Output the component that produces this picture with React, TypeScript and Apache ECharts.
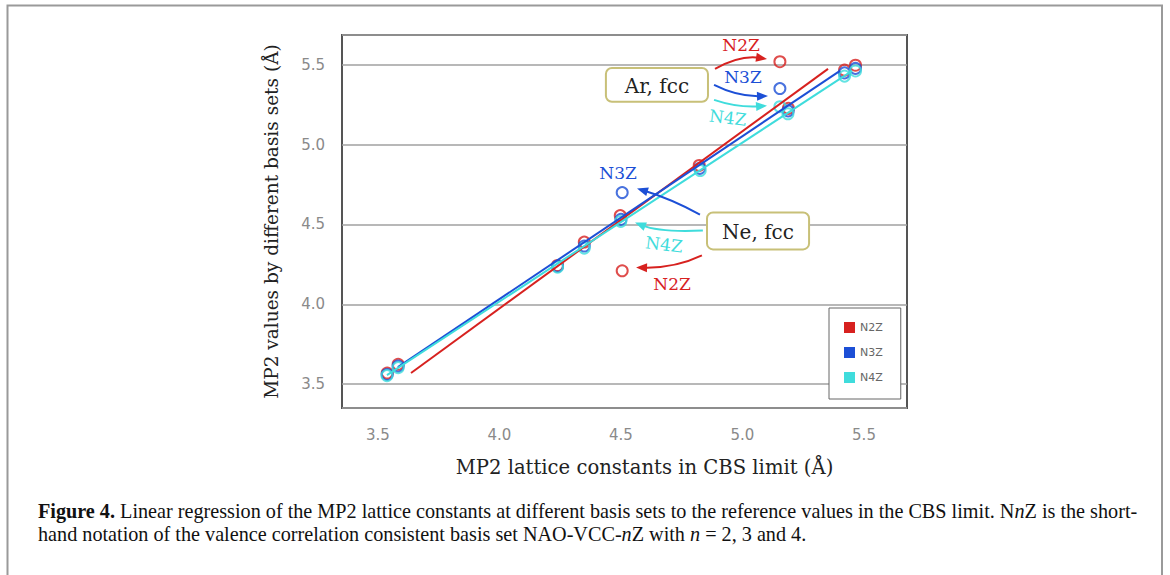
import React, { useEffect, useRef } from "react";
import * as echarts from "echarts";

// ---------- data ----------
const seriesNames = ["N2Z", "N3Z", "N4Z"];
const seriesColors = ["#d7211f", "#1c4fd6", "#3fdcdc"];

// scatter points [CBS value, basis-set value]
const n2zPoints = [
  [3.538, 3.569], [3.583, 3.624], [4.239, 4.243], [4.349, 4.39], [4.497, 4.556],
  [4.822, 4.87], [5.189, 5.228], [5.42, 5.467], [5.465, 5.498], [4.505, 4.21], [5.154, 5.52],
];
const n3zPoints = [
  [3.538, 3.56], [3.583, 3.612], [4.239, 4.238], [4.349, 4.365], [4.5, 4.532],
  [4.824, 4.852], [5.188, 5.212], [5.42, 5.45], [5.465, 5.478], [4.505, 4.7], [5.154, 5.352],
];
const n4zPoints = [
  [3.537, 3.553], [3.583, 3.603], [4.239, 4.233], [4.349, 4.352], [4.499, 4.519],
  [4.826, 4.838], [5.154, 5.238], [5.187, 5.194], [5.42, 5.43], [5.465, 5.462],
];

// regression lines (end points)
const n2zFit = [[3.636, 3.569], [5.352, 5.475]];
const n3zFit = [[3.582, 3.606], [5.401, 5.463]];
const n4zFit = [[3.537, 3.556], [5.451, 5.463]];

const xTicks = [3.5, 4.0, 4.5, 5.0, 5.5];
const yTicks = [3.5, 4.0, 4.5, 5.0, 5.5];

// annotation boxes: label, top-left, bottom-right (data coords)
const boxes = [
  { label: "Ar, fcc", p1: [4.438, 5.481], p2: [4.858, 5.269] },
  { label: "Ne, fcc", p1: [4.854, 4.575], p2: [5.274, 4.344] },
];

// arrows: series index, start, control, tip (data coords)
const arrows = [
  { s: 0, a: [4.887, 5.475], c: [4.99, 5.5625], t: [5.101, 5.5375] },
  { s: 1, a: [4.883, 5.375], c: [4.981, 5.3], t: [5.105, 5.306] },
  { s: 2, a: [4.883, 5.281], c: [4.981, 5.231], t: [5.101, 5.244] },
  { s: 1, a: [4.825, 4.5625], c: [4.702, 4.6625], t: [4.566, 4.725] },
  { s: 2, a: [4.837, 4.4625], c: [4.66, 4.45], t: [4.558, 4.5125] },
  { s: 0, a: [4.833, 4.306], c: [4.722, 4.225], t: [4.562, 4.231] },
];

// arrow labels: series index, position (data coords), rotation
const arrowLabels = [
  { s: 0, p: [4.994, 5.625], r: 0 },
  { s: 1, p: [5.002, 5.425], r: 0 },
  { s: 2, p: [4.94, 5.169], r: -0.12 },
  { s: 1, p: [4.488, 4.825], r: 0 },
  { s: 2, p: [4.677, 4.375], r: -0.12 },
  { s: 0, p: [4.71, 4.125], r: 0 },
];

const xTitle = "MP2 lattice constants in CBS limit (Å)";
const yTitle = "MP2 values by different basis sets (Å)";
const captionLine1 =
  "{b|Figure 4.} Linear regression of the MP2 lattice constants at different basis sets to the reference values in the CBS limit. N{i|n}Z is the short-";
const captionLine2 =
  "hand notation of the valence correlation consistent basis set NAO-VCC-{i|n}Z with {i|n} = 2, 3 and 4.";

const SERIF = "DejaVu Serif";
const CAP_FONT = "Liberation Serif";
const CAP_SIZE = 20.2;

export default function App() {
  const ref = useRef<HTMLDivElement>(null);
  useEffect(() => {
    if (!ref.current) return;
    const chart = echarts.init(ref.current, null, { renderer: "svg" });
    const isTick = (v: number, ticks: number[]) => ticks.some((t) => Math.abs(t - v) < 1e-6);
    const pointSets = [n2zPoints, n3zPoints, n4zPoints];
    const fits = [n2zFit, n3zFit, n4zFit];
    const option: any = {
      animation: false,
      backgroundColor: "#fff",
      grid: {
        left: 342, top: 35, width: 565, height: 373,
        show: true, borderColor: "#555", borderWidth: 2, backgroundColor: "transparent",
      },
      legend: {
        data: seriesNames.map((n, i) => ({ name: n, itemStyle: { color: seriesColors[i], borderWidth: 0 } })),
        orient: "vertical", left: 829, top: 308, icon: "rect",
        itemWidth: 11, itemHeight: 11, itemGap: 14,
        padding: [14, 18, 16, 15],
        borderColor: "#666", borderWidth: 1, backgroundColor: "#fff",
        textStyle: { color: "#666", fontSize: 11, fontFamily: "DejaVu Sans" },
        selectedMode: false, z: 10,
      },
      xAxis: {
        type: "value", min: 3.352, max: 5.677, splitNumber: 5,
        axisLine: { show: false }, axisTick: { show: false }, splitLine: { show: false },
        axisLabel: {
          showMinLabel: false, showMaxLabel: false, color: "#8a8a8a", fontSize: 15,
          fontFamily: "DejaVu Sans", margin: 19,
          formatter: (v: number) => (isTick(v, xTicks) ? v.toFixed(1) : ""),
        },
        name: xTitle, nameLocation: "middle", nameGap: 49,
        nameTextStyle: { fontFamily: SERIF, fontSize: 19.6, color: "#222", padding: [0, 0, 0, 40] },
      },
      yAxis: {
        type: "value", min: 3.35, max: 5.6875, splitNumber: 5,
        axisLine: { show: false }, axisTick: { show: false },
        splitLine: { show: true, lineStyle: { color: "#a0a0a0", width: 1.5 } },
        axisLabel: {
          showMinLabel: false, showMaxLabel: false, color: "#8a8a8a", fontSize: 15,
          fontFamily: "DejaVu Sans", margin: 17,
          formatter: (v: number) => (isTick(v, yTicks) ? v.toFixed(1) : ""),
        },
        name: yTitle, nameLocation: "middle", nameGap: 61,
        nameTextStyle: { fontFamily: SERIF, fontSize: 18.5, color: "#222" },
      },
      series: [
        ...fits.map((f, i) => ({
          name: seriesNames[i], type: "line", data: f, showSymbol: false, silent: true,
          lineStyle: { color: seriesColors[i], width: 2 }, itemStyle: { color: seriesColors[i] },
        })),
        ...pointSets.map((p, i) => ({
          name: seriesNames[i], type: "scatter", data: p, symbol: "circle", symbolSize: 11,
          itemStyle: { color: "rgba(255,255,255,0)", borderColor: seriesColors[i], borderWidth: 2 },
        })),
      ],
    };
    chart.setOption(option);

    const P = (p: number[]) => chart.convertToPixel({ gridIndex: 0 }, p) as number[];
    const g: any[] = [];
    // outer frame
    g.push({
      type: "rect", shape: { x: 7.5, y: 5.5, width: 1154.5, height: 600 },
      style: { fill: "none", stroke: "#9a9a9a", lineWidth: 2 }, silent: true, z: 1,
    });
    // boxes
    boxes.forEach((b) => {
      const a = P(b.p1), c = P(b.p2);
      g.push({
        type: "rect", shape: { x: a[0], y: a[1], width: c[0] - a[0], height: c[1] - a[1], r: 6 },
        style: { fill: "#fff", stroke: "#c8c078", lineWidth: 2 }, z: 20,
      });
      g.push({
        type: "text", x: (a[0] + c[0]) / 2, y: (a[1] + c[1]) / 2 + 1, z: 21,
        style: { text: b.label, fill: "#222", fontFamily: SERIF, fontSize: 20, align: "center", verticalAlign: "middle" },
      });
    });
    // arrows
    arrows.forEach((ar) => {
      const a = P(ar.a), c = P(ar.c), t = P(ar.t);
      const col = seriesColors[ar.s];
      let dx = t[0] - c[0], dy = t[1] - c[1];
      const len = Math.hypot(dx, dy);
      dx /= len; dy /= len;
      const L = 11, W = 4.5;
      const bx = t[0] - dx * L, by = t[1] - dy * L;
      const e = [t[0] - dx * L * 0.7, t[1] - dy * L * 0.7];
      g.push({
        type: "bezierCurve",
        shape: { x1: a[0], y1: a[1], cpx1: c[0], cpy1: c[1], x2: e[0], y2: e[1] },
        style: { stroke: col, lineWidth: 2, fill: "none" }, z: 20,
      });
      g.push({
        type: "polygon",
        shape: { points: [[t[0], t[1]], [bx - dy * W, by + dx * W], [bx + dy * W, by - dx * W]] },
        style: { fill: col }, z: 20,
      });
    });
    arrowLabels.forEach((l) => {
      const p = P(l.p);
      g.push({
        type: "text", x: p[0], y: p[1], rotation: l.r, z: 21,
        style: { text: seriesNames[l.s], fill: seriesColors[l.s], fontFamily: SERIF, fontSize: 17, align: "center", verticalAlign: "middle" },
      });
    });
    // caption
    const capStyle = {
      fill: "#111", fontFamily: CAP_FONT, fontSize: CAP_SIZE, verticalAlign: "middle",
      rich: {
        b: { fontWeight: "bold", fontFamily: CAP_FONT, fontSize: CAP_SIZE, fill: "#111" },
        i: { fontStyle: "italic", fontFamily: CAP_FONT, fontSize: CAP_SIZE, fill: "#111" },
      },
    };
    g.push({ type: "text", x: 38, y: 511, style: { ...capStyle, text: captionLine1 }, z: 5 });
    g.push({ type: "text", x: 38, y: 534, style: { ...capStyle, text: captionLine2 }, z: 5 });

    chart.setOption({ graphic: g });
    return () => chart.dispose();
  }, []);
  return <div ref={ref} style={{ position: "absolute", left: 0, top: 0, width: 1170, height: 575 }} />;
}
